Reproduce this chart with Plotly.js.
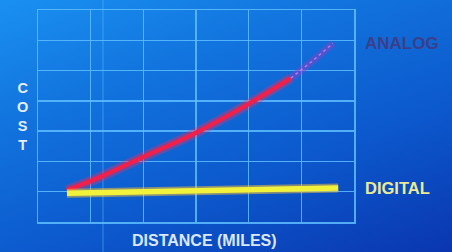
<!DOCTYPE html>
<html>
<head>
<meta charset="utf-8">
<script src="https://cdn.plot.ly/plotly-3.0.1.min.js"></script>
<style>
html,body{margin:0;padding:0;width:452px;height:252px;overflow:hidden;
background:linear-gradient(160deg,#1a90f2 0%,#1274de 30%,#0c58cc 65%,#0a36b0 100%);}
#chart{width:452px;height:252px;}
</style>
</head>
<body>
<div id="chart"></div>
<script>
// Distance (grid units) and cost values
const analogX = [0.55, 1.2, 2.0, 3.0, 4.0, 4.8];
const analogY = [1.05, 1.5, 2.15, 2.95, 3.9, 4.75];
const analogFadeX = [4.8, 5.2, 5.6];
const analogFadeY = [4.75, 5.3, 5.9];
const digitalX = [0.55, 5.7];
const digitalY = [0.95, 1.12];
const seriesLabels = ["ANALOG", "DIGITAL"];
const xTitle = "DISTANCE (MILES)";
const yTitleLetters = ["C", "O", "S", "T"];

const traces = [
  {x: analogX, y: analogY, mode: "lines", line: {color: "rgba(255,40,90,0.35)", width: 10, shape: "spline"}, hoverinfo: "skip"},
  {x: analogX, y: analogY, mode: "lines", line: {color: "#f0204a", width: 4.5, shape: "spline"}, hoverinfo: "skip"},
  {x: analogFadeX, y: analogFadeY, mode: "lines", line: {color: "rgba(150,60,200,0.45)", width: 7, shape: "spline"}, hoverinfo: "skip"},
  {x: analogFadeX, y: analogFadeY, mode: "lines", line: {color: "rgba(220,140,230,0.7)", width: 1.5, dash: "dot"}, hoverinfo: "skip"},
  {x: digitalX, y: digitalY, mode: "lines", line: {color: "rgba(255,200,40,0.5)", width: 9}, hoverinfo: "skip"},
  {x: digitalX, y: digitalY, mode: "lines", line: {color: "#f2f23a", width: 5.5}, hoverinfo: "skip"}
];

const gridCol = "rgba(95,190,255,0.85)";
const plotTop = 10, plotBottom = 222;
const annotations = [
  {text: "<b>" + yTitleLetters.join("<br>") + "</b>", xref: "paper", yref: "paper",
   x: -0.05, y: (plotBottom - 116) / (plotBottom - plotTop), xanchor: "center", yanchor: "middle",
   showarrow: false, align: "center", borderpad: 0, font: {size: 14.5, color: "#e6eef8"}},
  {text: "<b>" + seriesLabels[0] + "</b>", xref: "paper", yref: "y", x: 1.028, y: 5.9, xanchor: "left", yanchor: "middle",
   showarrow: false, font: {size: 17, color: "#3c3e8a"}},
  {text: "<b>" + seriesLabels[1] + "</b>", xref: "paper", yref: "y", x: 1.028, y: 1.12, xanchor: "left", yanchor: "middle",
   showarrow: false, font: {size: 16.5, color: "#eaea96"}},
  {text: "<b>" + xTitle + "</b>", xref: "paper", yref: "paper", x: (204 - 38) / 316, y: -0.085, xanchor: "center", yanchor: "middle",
   showarrow: false, font: {size: 16, color: "#dce8f8"}}
];

const layout = {
  width: 452, height: 252,
  margin: {l: 38, r: 98, t: 10, b: 30},
  paper_bgcolor: "rgba(0,0,0,0)",
  plot_bgcolor: "rgba(0,0,0,0)",
  showlegend: false,
  font: {family: "Liberation Sans, Arial, sans-serif"},
  xaxis: {
    range: [0, 6], dtick: 1, tick0: 0, showticklabels: false, ticks: "",
    showgrid: true, gridcolor: gridCol, gridwidth: 1.5,
    zeroline: false, showline: true, mirror: true, linecolor: gridCol, linewidth: 1.5
  },
  yaxis: {
    range: [0, 7], dtick: 1, tick0: 0, showticklabels: false, ticks: "",
    showgrid: true, gridcolor: gridCol, gridwidth: 1.5,
    zeroline: false, showline: true, mirror: true, linecolor: gridCol, linewidth: 1.5
  },
  shapes: [
    {type: "line", xref: "paper", yref: "paper", x0: (103 - 38) / 316, x1: (103 - 38) / 316, y0: -0.14, y1: 1.05,
     line: {color: "rgba(95,190,255,0.35)", width: 1.5}, layer: "below"}
  ],
  annotations: annotations
};

Plotly.newPlot("chart", traces, layout, {displayModeBar: false, staticPlot: true});
</script>
</body>
</html>
